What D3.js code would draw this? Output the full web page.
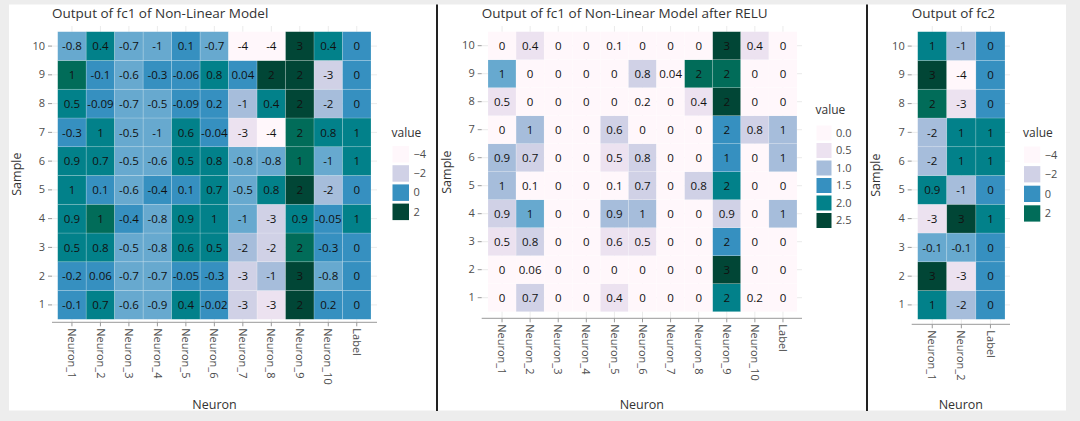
<!DOCTYPE html>
<html>
<head>
<meta charset="utf-8">
<script src="https://cdn.jsdelivr.net/npm/d3@7"></script>
<style>
  body { margin: 0; background: #ededed; }
  text { font-family: "Open Sans", sans-serif; }
</style>
</head>
<body>
<div id="chart"></div>
<script>
// --- data (rows are Sample 1 .. Sample 10) ---
const samples = [1, 2, 3, 4, 5, 6, 7, 8, 9, 10];
const fc1Columns = ["Neuron_1", "Neuron_2", "Neuron_3", "Neuron_4", "Neuron_5", "Neuron_6",
  "Neuron_7", "Neuron_8", "Neuron_9", "Neuron_10", "Label"];

const fc1Values = [
  [-0.1, 0.7, -0.6, -0.9, 0.4, -0.02, -2.6, -3.2, 1.95, 0.2, 0],
  [-0.2, 0.06, -0.7, -0.7, -0.05, -0.3, -2.6, -1.3, 3.0, -0.8, 0],
  [0.5, 0.8, -0.5, -0.8, 0.57, 0.5, -1.8, -2.2, 1.7, -0.3, 0],
  [0.86, 1.3, -0.4, -0.8, 0.9, 1.0, -1.0, -2.6, 0.86, -0.05, 1],
  [1.0, 0.1, -0.6, -0.4, 0.1, 0.7, -0.5, 0.8, 1.95, -1.8, 0],
  [0.9, 0.7, -0.5, -0.6, 0.5, 0.8, -0.8, -0.8, 1.47, -1.0, 1],
  [-0.3, 1.0, -0.5, -1.0, 0.6, -0.04, -3.2, -4.1, 1.6, 0.8, 1],
  [0.5, -0.09, -0.7, -0.5, -0.09, 0.2, -1.3, 0.4, 2.4, -1.8, 0],
  [1.3, -0.1, -0.6, -0.3, -0.06, 0.8, 0.04, 2.2, 2.2, -2.6, 0],
  [-0.8, 0.4, -0.7, -1.0, 0.1, -0.7, -4.1, -4.1, 3.0, 0.4, 0]
];

const reluValues = [
  [0, 0.7, 0, 0, 0.4, 0, 0, 0, 1.95, 0.2, 0],
  [0, 0.06, 0, 0, 0, 0, 0, 0, 3.0, 0, 0],
  [0.5, 0.8, 0, 0, 0.57, 0.5, 0, 0, 1.7, 0, 0],
  [0.86, 1.3, 0, 0, 0.9, 1.0, 0, 0, 0.86, 0, 1],
  [1.0, 0.1, 0, 0, 0.1, 0.7, 0, 0.8, 1.95, 0, 0],
  [0.9, 0.7, 0, 0, 0.5, 0.8, 0, 0, 1.47, 0, 1],
  [0, 1.0, 0, 0, 0.6, 0, 0, 0, 1.6, 0.8, 1],
  [0.5, 0, 0, 0, 0, 0.2, 0, 0.4, 2.4, 0, 0],
  [1.3, 0, 0, 0, 0, 0.8, 0.04, 2.2, 2.2, 0, 0],
  [0, 0.4, 0, 0, 0.1, 0, 0, 0, 3.0, 0.4, 0]
];

const fc2Columns = ["Neuron_1", "Neuron_2", "Label"];
const fc2Values = [
  [1, -1.6, 0],
  [3, -3, 0],
  [-0.1, -0.1, 0],
  [-3, 3, 1],
  [0.9, -1, 0],
  [-1.6, 1, 1],
  [-1.6, 1, 1],
  [2, -3, 0],
  [3, -4, 0],
  [1, -1, 0]
];

const fc1Breaks = [-4, -2, 0, 2];
const reluBreaks = [0, 0.5, 1, 1.5, 2, 2.5];
const fc2Breaks = [-4, -2, 0, 2];

// --- scales ---
const palette = d3.schemePuBuGn[9];
const fc1Color = d3.scaleQuantize().domain([-4.25, 2.65]).range(palette);
const reluColor = d3.scaleQuantize().domain([0, 2.61]).range(palette);
const fc2Color = d3.scaleQuantize().domain([-4.05, 3.15]).range(palette);

const hyphen = d3.formatLocale({decimal: ".", thousands: ",", grouping: [3], currency: ["", ""], minus: "-"});
const cellFmt = hyphen.format(".1r");

const W = 1080, H = 421;
const svg = d3.select("#chart").append("svg")
    .attr("width", W)
    .attr("height", H);

svg.append("rect")
    .attr("x", 9).attr("y", 4.5)
    .attr("width", 1057).attr("height", 406)
    .attr("fill", "#fff");

function heatmap(o) {
  const g = svg.append("g");
  const x = d3.scaleBand().domain(o.columns).range(o.tileX);
  const y = d3.scaleBand().domain(samples).range([o.tileY[1], o.tileY[0]]);
  const cx = d => x(d) + x.bandwidth() / 2;
  const cy = d => y(d) + y.bandwidth() / 2;

  // grid
  g.selectAll(".gx").data(o.columns).join("line")
      .attr("x1", cx).attr("x2", cx)
      .attr("y1", o.panelTop).attr("y2", o.axisY)
      .attr("stroke", "#ebebeb");
  g.selectAll(".gy").data(samples).join("line")
      .attr("x1", o.panelX[0]).attr("x2", o.panelX[1])
      .attr("y1", cy).attr("y2", cy)
      .attr("stroke", "#ebebeb");

  const cells = o.values.flatMap((row, i) =>
    row.map((v, j) => ({sample: samples[i], col: o.columns[j], v: v})));

  g.selectAll("rect.tile").data(cells).join("rect")
      .attr("class", "tile")
      .attr("x", d => x(d.col))
      .attr("y", d => y(d.sample))
      .attr("width", x.bandwidth())
      .attr("height", y.bandwidth())
      .attr("fill", d => o.color(d.v))
      .attr("stroke", "rgba(255,255,255,0.3)")
      .attr("stroke-width", 0.6);

  g.selectAll("text.cell").data(cells).join("text")
      .attr("class", "cell")
      .attr("x", d => cx(d.col))
      .attr("y", d => cy(d.sample))
      .attr("dy", "0.36em")
      .attr("text-anchor", "middle")
      .attr("font-size", 11.5)
      .attr("font-family", "'Liberation Sans', Arial, sans-serif")
      .attr("fill", "#111")
      .text(d => cellFmt(d.v));

  // x axis
  const xa = g.append("g")
      .attr("transform", "translate(0," + o.axisY + ")")
      .call(d3.axisBottom(x).tickSize(4).tickSizeOuter(0));
  xa.select(".domain").remove();
  xa.append("line")
      .attr("x1", o.panelX[0]).attr("x2", o.panelX[1])
      .attr("stroke", "#999");
  xa.selectAll(".tick line").attr("stroke", "#999");
  xa.selectAll(".tick text")
      .attr("transform", "rotate(90)")
      .attr("x", 6).attr("y", 0)
      .attr("dy", "0.35em")
      .attr("text-anchor", "start")
      .attr("font-size", 11)
      .attr("font-family", "Open Sans")
      .attr("fill", "#4d4d4d");

  // y axis
  const ya = g.append("g")
      .attr("transform", "translate(" + o.panelX[0] + ",0)")
      .call(d3.axisLeft(y).tickSize(4).tickSizeOuter(0));
  ya.select(".domain").remove();
  ya.selectAll(".tick line").attr("stroke", "#999");
  ya.selectAll(".tick text")
      .attr("font-size", 11)
      .attr("font-family", "Open Sans")
      .attr("fill", "#4d4d4d");

  // titles
  g.append("text")
      .attr("x", o.panelX[0]).attr("y", 18)
      .attr("font-size", 13.5)
      .attr("fill", "#333")
      .text(o.title);
  g.append("text")
      .attr("x", (o.panelX[0] + o.panelX[1]) / 2).attr("y", 409)
      .attr("text-anchor", "middle")
      .attr("font-size", 12.5)
      .attr("fill", "#333")
      .text("Neuron");
  g.append("text")
      .attr("transform", "translate(" + o.sampleX + "," + ((o.panelTop + o.axisY) / 2) + ") rotate(-90)")
      .attr("text-anchor", "middle")
      .attr("dy", "0.35em")
      .attr("font-size", 12.5)
      .attr("fill", "#333")
      .text("Sample");

  // legend
  const lg = g.append("g").attr("transform", "translate(" + o.legend.x + "," + o.legend.y + ")");
  lg.append("text")
      .attr("x", 0).attr("y", 0)
      .attr("font-size", 12)
      .attr("fill", "#333")
      .text("value");
  const keys = lg.selectAll("g.key").data(o.legend.breaks).join("g")
      .attr("class", "key")
      .attr("transform", (d, i) => "translate(1," + (o.legend.top + i * o.legend.step) + ")");
  keys.append("rect")
      .attr("width", o.legend.size).attr("height", o.legend.size)
      .attr("fill", d => o.color(d));
  keys.append("text")
      .attr("x", o.legend.size + 4.5)
      .attr("y", o.legend.size / 2)
      .attr("dy", "0.35em")
      .attr("font-size", 11)
      .attr("fill", "#4d4d4d")
      .text(o.legend.fmt);
}

heatmap({
  columns: fc1Columns, values: fc1Values, color: fc1Color,
  tileX: [57.7, 371], tileY: [31.7, 319.3], panelX: [52, 377], panelTop: 26, axisY: 322.3,
  sampleX: 17, title: "Output of fc1 of Non-Linear Model",
  legend: {x: 391.5, y: 137, top: 9, step: 19.2, size: 16.5, breaks: fc1Breaks, fmt: d3.format("d")}
});

heatmap({
  columns: fc1Columns, values: reluValues, color: reluColor,
  tileX: [488, 797], tileY: [31.7, 311.7], panelX: [481.7, 802], panelTop: 26, axisY: 318.3,
  sampleX: 447, title: "Output of fc1 of Non-Linear Model after RELU",
  legend: {x: 815.5, y: 114, top: 11.5, step: 17.5, size: 15, breaks: reluBreaks, fmt: d3.format(".1f")}
});

heatmap({
  columns: fc2Columns, values: fc2Values, color: fc2Color,
  tileX: [917.7, 1005], tileY: [31.7, 319.3], panelX: [911.7, 1010], panelTop: 26, axisY: 324.3,
  sampleX: 876, title: "Output of fc2",
  legend: {x: 1023, y: 137, top: 9.5, step: 19.6, size: 16.3, breaks: fc2Breaks, fmt: d3.format("d")}
});

// panel separators
[437, 867].forEach(sx => {
  svg.append("line")
      .attr("x1", sx).attr("x2", sx)
      .attr("y1", 4.5).attr("y2", 411)
      .attr("stroke", "#222")
      .attr("stroke-width", 2);
});
</script>
</body>
</html>
